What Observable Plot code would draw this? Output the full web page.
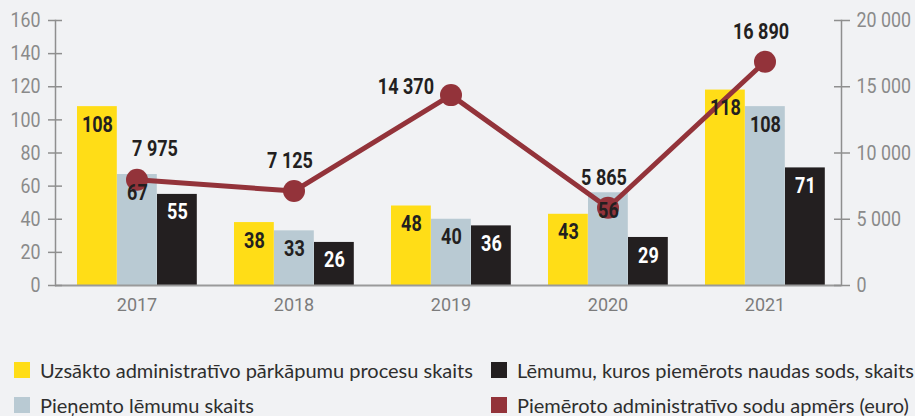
<!DOCTYPE html>
<html>
<head>
<meta charset="utf-8">
<script src="https://cdn.jsdelivr.net/npm/d3@7"></script>
<script src="https://cdn.jsdelivr.net/npm/@observablehq/plot@0.6"></script>
<style>
  html, body { margin: 0; padding: 0; background: #F1F2F4; }
  #wrap { position: relative; width: 915px; height: 416px; overflow: hidden; }
  #legend { position: absolute; left: 0; top: 330px; width: 915px; height: 86px;
            font-family: Lato, sans-serif; font-size: 20px; color: #2e2e2e; }
  .item { position: absolute; display: flex; align-items: center; white-space: nowrap; }
  .sw { width: 16px; height: 16px; margin-right: 10px; flex: none; }
</style>
</head>
<body>
<div id="wrap">
  <div id="chart"></div>
  <div id="legend"></div>
</div>
<script>
// ---- data ----
const years = ["2017", "2018", "2019", "2020", "2021"];
const started = [108, 38, 48, 43, 118];      // Uzsākto administratīvo pārkāpumu procesu skaits
const decisions = [67, 33, 40, 56, 108];     // Pieņemto lēmumu skaits
const fined = [55, 26, 36, 29, 71];          // Lēmumu, kuros piemērots naudas sods, skaits
const fineAmount = [7975, 7125, 14370, 5865, 16890]; // Piemēroto administratīvo sodu apmērs (euro)
const leftTicks = [0, 20, 40, 60, 80, 100, 120, 140, 160];
const rightTicks = [0, 5000, 10000, 15000, 20000];
const seriesNames = [
  "Uzsākto administratīvo pārkāpumu procesu skaits",
  "Pieņemto lēmumu skaits",
  "Lēmumu, kuros piemērots naudas sods, skaits",
  "Piemēroto administratīvo sodu apmērs (euro)"
];
const colors = ["#FFDD17", "#B9CAD3", "#231F20", "#93333A"];

// ---- derived tables ----
const ratio = 20000 / 160; // right axis units per left axis unit
const fmt = v => d3.format(",")(v).replace(/,/g, " ");
const barData = (vals) => years.map((y, i) => ({year: y, value: vals[i]}));
const lineData = years.map((y, i) => ({year: y, amount: fineAmount[i], v: fineAmount[i] / ratio}));

const W = 915, H = 330;
const bandStep = (843 - 57) / years.length;
const barW = 40, edge = 19;
const bar = (vals, k) => Plot.barY(barData(vals), {
  x: "year", y: "value", fill: colors[k],
  insetLeft: edge + k * barW, insetRight: bandStep - edge - (k + 1) * barW
});
const boldFont = {fontFamily: "Roboto, sans-serif", fontWeight: "bold", fontSize: 22};
const barLabel = (vals, k, color) => Plot.text(barData(vals), {
  x: "year", y: "value", text: d => String(d.value),
  dx: -bandStep / 2 + edge + k * barW + barW / 2, dy: 18,
  fill: color, ...boldFont
});
const lblStyle = {x: "year", y: "v", text: d => fmt(d.amount), fill: "#231F20", ...boldFont};

const chart = Plot.plot({
  width: W, height: H,
  marginLeft: 55, marginRight: 74, marginTop: 20, marginBottom: 45,
  style: {background: "transparent", fontFamily: "Roboto, sans-serif"},
  x: {type: "band", domain: years, range: [57, 843], padding: 0},
  y: {domain: [0, 160]},
  marks: [
    bar(started, 0), bar(decisions, 1), bar(fined, 2),
    Plot.frame({anchor: "left", stroke: "#8f8f8f", strokeWidth: 1.5}),
    Plot.frame({anchor: "right", stroke: "#8f8f8f", strokeWidth: 1.5}),
    Plot.ruleY([0], {stroke: "#9a9a9a", strokeWidth: 2}),
    Plot.axisY(leftTicks, {anchor: "left", tickSize: 14, dx: 7, tickPadding: 8,
      fontSize: 21, fill: "#8a8a8a", stroke: "#8f8f8f", strokeWidth: 1.5, label: null}),
    Plot.axisY(rightTicks.map(t => t / ratio), {anchor: "right", tickSize: 16, dx: -8, tickPadding: 7,
      tickFormat: d => fmt(d * ratio), fontSize: 21, fill: "#8a8a8a", stroke: "#8f8f8f", strokeWidth: 1.5, label: null}),
    Plot.axisX({tickSize: 0, tickPadding: 13, fontSize: 18, fill: "#7c7c7c", label: null}),
    Plot.line(lineData, {x: "year", y: "v", stroke: colors[3], strokeWidth: 5}),
    Plot.dot(lineData, {x: "year", y: "v", r: 11, fill: colors[3]}),
    barLabel(started, 0, "#231F20"), barLabel(decisions, 1, "#231F20"), barLabel(fined, 2, "#ffffff"),
    Plot.text(lineData, {...lblStyle, filter: d => d.year === "2017", dx: 18, dy: -31}),
    Plot.text(lineData, {...lblStyle, filter: d => d.year === "2018" || d.year === "2020" || d.year === "2021", dx: -4, dy: -30}),
    Plot.text(lineData, {...lblStyle, filter: d => d.year === "2019", textAnchor: "end", dx: -17, dy: -8})
  ]
});
document.getElementById("chart").appendChild(chart);

// condense text horizontally (the reference uses a condensed typeface)
function condense(sel, k) {
  chart.querySelectorAll(sel).forEach(el => {
    const t = el.getAttribute("transform");
    if (t) el.setAttribute("transform", t + ` scale(${k},1)`);
    else {
      const x = +el.getAttribute("x") || 0;
      el.setAttribute("transform", `translate(${x * (1 - k)},0) scale(${k},1)`);
    }
  });
}
condense('g[aria-label="text"] text', 0.82);
condense('g[aria-label="y-axis tick label"] text', 0.85);

// ---- legend ----
const legend = document.getElementById("legend");
const pos = [[14, 41], [14, 76], [491, 41], [491, 76]];
seriesNames.forEach((name, i) => {
  const it = document.createElement("div");
  it.className = "item";
  it.style.left = pos[i][0] + "px";
  it.style.top = (pos[i][1] - 13) + "px";
  it.innerHTML = `<span class="sw" style="background:${colors[i]}"></span><span>${name}</span>`;
  legend.appendChild(it);
});
</script>
</body>
</html>
